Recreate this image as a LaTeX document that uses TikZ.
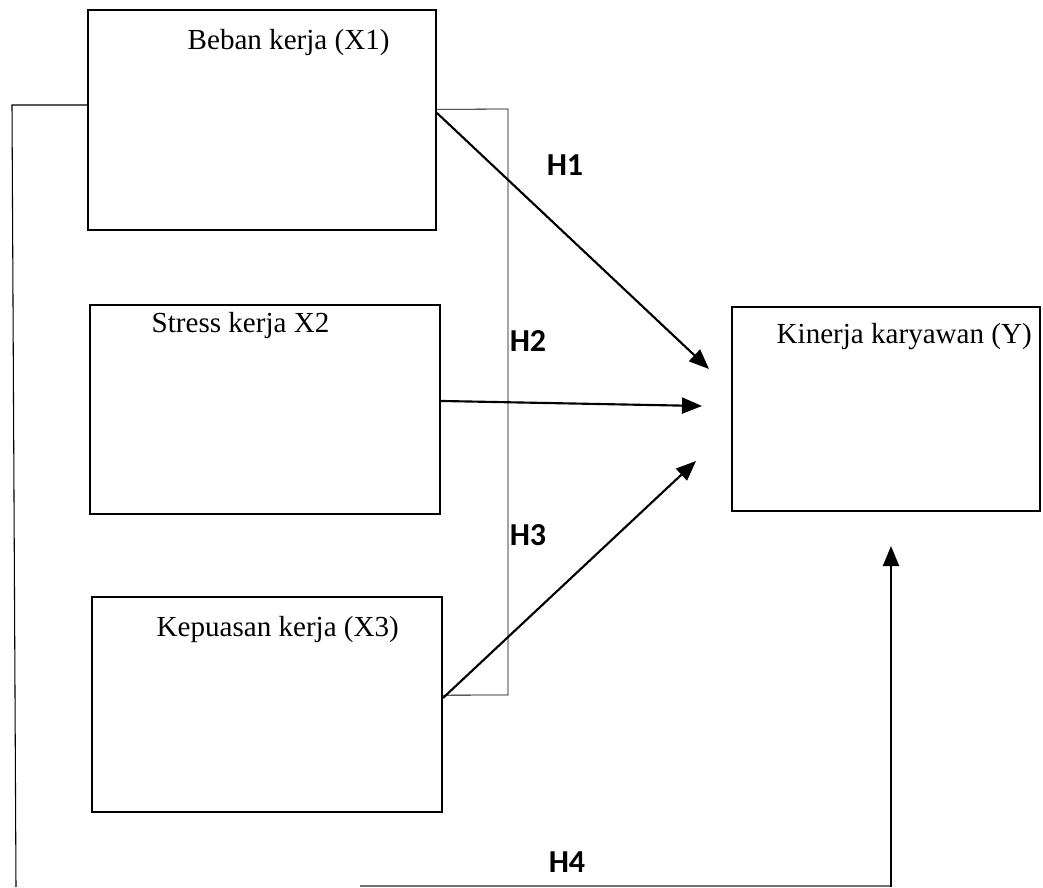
\documentclass[tikz,border=0pt]{standalone}
\usepackage{fontspec}
\setmainfont{Liberation Serif}
\newfontfamily\hyfont{Carlito}
\usetikzlibrary{arrows.meta}

\tikzset{
    var/.style={draw, line width=1.5pt, inner sep=0pt},
    varlabel/.style={anchor=base west, font=\fontsize{21.8}{26}\selectfont},
    hyp/.style={font=\hyfont\bfseries\fontsize{24}{28}\selectfont},
    arrow/.style={line width=1.6pt, -{Triangle[length=15pt, width=12pt]}},
}

\begin{document}
\begin{tikzpicture}[x=0.75pt, y=-0.75pt]
        \useasboundingbox (0,0) rectangle (1043,888);
        % variables
        \node[var, minimum width=261pt, minimum height=165pt] (x1) at (262,120) {};
        \node[var, minimum width=262.5pt, minimum height=156.75pt] (x2) at (265,409.5) {};
        \node[var, minimum width=262.5pt, minimum height=161.25pt] (x3) at (267,704.5) {};
        \node[var, minimum width=231pt, minimum height=153pt] (y) at (886,409) {};
        \node[varlabel] (tx1) at (183,50) {Beban kerja (X1)};
        \node[varlabel] (tx2) at (147,332) {Stress kerja X2};
        \node[varlabel] (tx3) at (152,636) {Kepuasan kerja (X3)};
        \node[varlabel] (ty) at (772,343) {Kinerja karyawan (Y)};
        % arrow ends
        \coordinate (e1) at (709,369);
        \coordinate (e2) at (702,406);
        \coordinate (e3) at (696,461);
        \coordinate (e4) at (891,546);
        \draw[arrow] ([yshift=5.25pt]x1.east) -- (e1);
        \draw[arrow] ([yshift=6.4pt]x2.east) -- (e2);
        \draw[arrow] ([yshift=4.9pt]x3.east) -- (e3);
        % thin bracket
        \draw[line width=0.6pt] ([yshift=8pt]x1.east) -- (508,109) -- (508,695) -- ([yshift=7pt]x3.east);
        % joint path
        \draw[line width=0.8pt] ([yshift=11.25pt]x1.west) -- (12,105) -- (16,887);
        \draw[line width=1.2pt, black!55] (360,886) -- (891,886);
        \draw[arrow] (891,887) -- (e4);
        % hypotheses
        \node[hyp] (h1) at (565,165) {H1};
        \node[hyp] (h2) at (528,341) {H2};
        \node[hyp] (h3) at (528,535) {H3};
        \node[hyp] (h4) at (567,862) {H4};
    \end{tikzpicture}
\end{document}
